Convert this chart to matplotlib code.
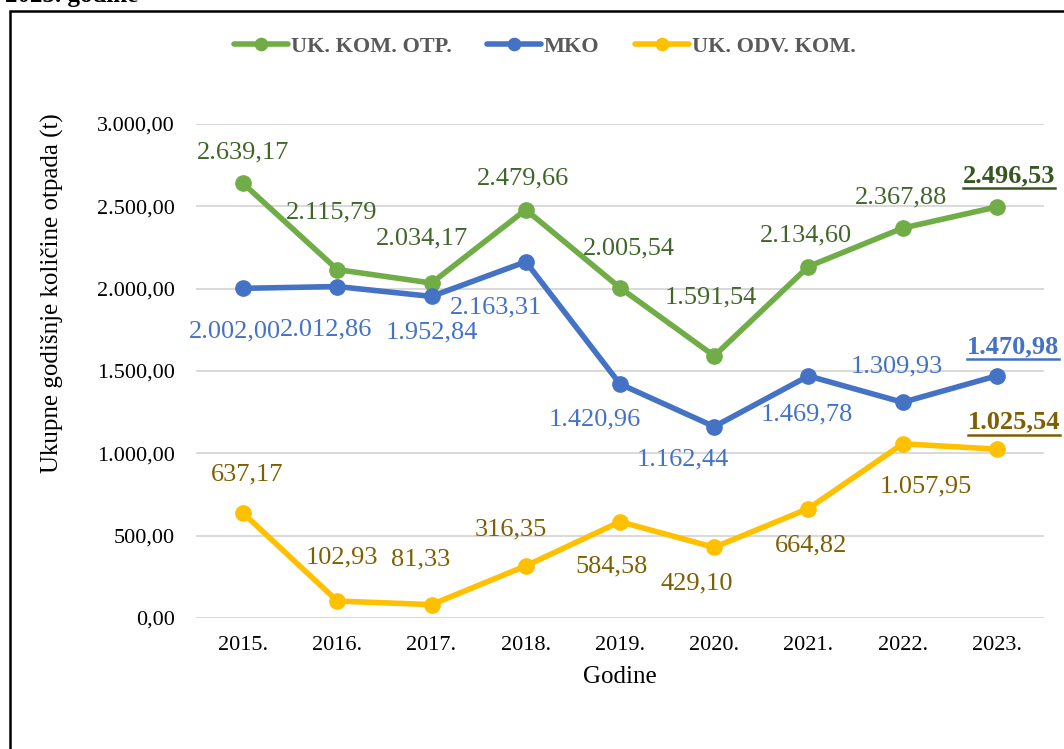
import matplotlib
matplotlib.use('Agg')
import matplotlib.pyplot as plt
from matplotlib.lines import Line2D
from matplotlib.patches import Rectangle

plt.rcParams['font.family'] = ['Liberation Serif', 'DejaVu Serif']

years = ['2015.', '2016.', '2017.', '2018.', '2019.', '2020.', '2021.', '2022.', '2023.']
uk_kom_otp = [2639.17, 2115.79, 2034.17, 2479.66, 2005.54, 1591.54, 2134.60, 2367.88, 2496.53]
mko = [2002.00, 2012.86, 1952.84, 2163.31, 1420.96, 1162.44, 1469.78, 1309.93, 1470.98]
uk_odv_kom = [637.17, 102.93, 81.33, 316.35, 584.58, 429.10, 664.82, 1057.95, 1025.54]
series_names = ['UK. KOM. OTP.', 'MKO', 'UK. ODV. KOM.']

# label offsets in pixels (right, up)
green_off = [(0, 34), (-6, 60), (-10, 48), (-3, 34), (9, 42), (-3, 61), (-3, 34), (-2, 34), (12, 34)]
blue_off = [(-8, -40), (-11, -40), (0, -33), (-30, -43), (-25, -32), (-31, -30), (-2, -35), (-6, 39), (16, 32)]
gold_off = [(4, 42), (5, 47), (-11, 48), (-15, 39), (-8, -42), (-17, -33), (3, -34), (23, -40), (17, 30)]


def fmt(v):
    s = f'{v:,.2f}'
    return s.replace(',', 'X').replace('.', ',').replace('X', '.')


W, H = 1064, 749
fig = plt.figure(figsize=(W / 100, H / 100), dpi=100)
ax = fig.add_axes([196 / W, 1 - 618 / H, (1044 - 196) / W, (618 - 124) / H])

# frame around the chart (cut off on the right and bottom)
fig.patches.append(Rectangle((9.5 / W, -0.2), 2.0, 1 - 10.5 / H + 0.2, transform=fig.transFigure,
                             fill=False, edgecolor='black', linewidth=1.8))
fig.text(5 / W, 1 - 2 / H, '2023. godine', fontsize=18, fontweight='bold', va='baseline', ha='left')

x = list(range(len(years)))
styles = [
    (uk_kom_otp, '#70AD47', '#41662A', '#375623', green_off),
    (mko, '#4472C4', '#4472C4', '#4472C4', blue_off),
    (uk_odv_kom, '#FFC000', '#7F6000', '#7F6000', gold_off),
]

bold_labels = []
for (vals, col, lab_col, last_col, offs), name in zip(styles, series_names):
    ax.plot(x, vals, color=col, lw=4, marker='o', markersize=11, label=name,
            solid_capstyle='round', zorder=3)
    for i, v in enumerate(vals):
        last = i == len(vals) - 1
        dx, dy = offs[i]
        t = ax.annotate(fmt(v), (i, v), xytext=(dx, dy - 3), textcoords='offset pixels',
                        ha='center', va='center', fontsize=19,
                        color=last_col if last else lab_col,
                        fontweight='bold' if last else 'normal', zorder=4)
        if last:
            bold_labels.append((t, last_col))

ax.set_xlim(-0.5, len(years) - 0.5)
ax.set_ylim(0, 3000)
ax.set_yticks(range(0, 3001, 500))
ax.set_yticklabels([fmt(v) for v in range(0, 3001, 500)])
ax.set_xticks(x)
ax.set_xticklabels(years)
ax.tick_params(axis='both', length=0, labelsize=16)
ax.tick_params(axis='y', pad=15)
ax.tick_params(axis='x', pad=13)
ax.grid(axis='y', color='#D9D9D9', lw=1.4)
ax.set_axisbelow(True)
for sp in ax.spines.values():
    sp.set_visible(False)

ax.set_xlabel('Godine', fontsize=18, labelpad=8)
fig.text(52 / W, 1 - 293 / H, 'Ukupne godišnje količine otpada (t)', rotation=90,
         ha='center', va='center', fontsize=18)

leg = fig.legend(loc='center', bbox_to_anchor=(545 / W, 1 - 47 / H), ncol=3, frameon=False,
                 handlelength=2.4, handletextpad=0.15, columnspacing=1.6, markerscale=0.8,
                 prop={'size': 16, 'weight': 'bold'})
for txt in leg.get_texts():
    txt.set_color('#595959')

# underline the last (bold) labels
fig.canvas.draw()
renderer = fig.canvas.get_renderer()
for t, col in bold_labels:
    bb = t.get_window_extent(renderer)
    y = bb.y0 - 1
    fig.add_artist(Line2D([bb.x0 / W, bb.x1 / W], [y / H, y / H], color=col, lw=1.8,
                          transform=fig.transFigure))

fig.savefig('out.png', dpi=100)
